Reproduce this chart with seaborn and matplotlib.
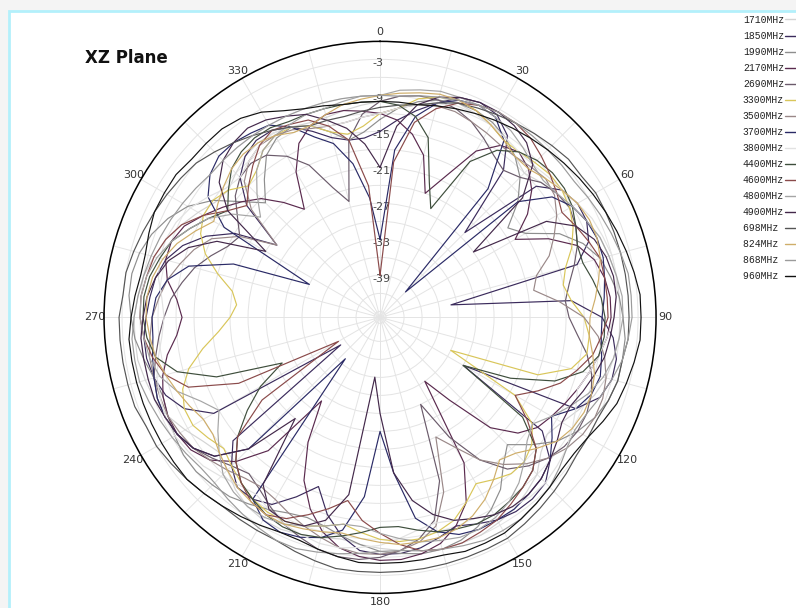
import numpy as np
import pandas as pd
import matplotlib
matplotlib.use("Agg")
import matplotlib.pyplot as plt
from matplotlib.lines import Line2D
from matplotlib.patches import Rectangle
from matplotlib.transforms import ScaledTranslation
import seaborn as sns

# ---------------- data (gain read in dB, every 5 degrees, 0..355; one row = 60 deg) ----------------
angles_deg = list(range(0, 360, 5))

freqs = ["1710MHz", "1850MHz", "1990MHz", "2170MHz", "2690MHz", "3300MHz",
         "3500MHz", "3700MHz", "3800MHz", "4400MHz", "4600MHz", "4800MHz",
         "4900MHz", "698MHz", "824MHz", "868MHz", "960MHz"]

g1710 = [-10, -9, -8.5, -8, -8, -8.5, -9, -10, -11, -12, -11, -10,
         -9, -8, -7, -6.5, -6, -6, -6, -6, -6.5, -7, -8, -9.5,
         -11, -12, -11, -9, -8, -7, -6.5, -6, -6, -6, -6.5, -7,
         -7.5, -8, -8.5, -8, -7.5, -7, -7, -7.5, -8.5, -10, -11, -10,
         -8.5, -7, -6, -5.5, -5, -5, -5, -5.5, -6, -7, -8, -9.5,
         -11, -12.5, -13, -12, -11, -10.5, -10.5, -11, -11.5, -11.5, -11, -10.5]
g1850 = [-15, -13, -11, -9, -7, -6.5, -7, -9, -14, -26, -12, -9,
         -8, -8, -9, -12, -34, -14, -9, -7, -6, -6, -7, -10,
         -30, -13, -9, -7, -6.5, -6.5, -7, -8, -9, -8, -7, -6.5,
         -6.5, -7, -9, -12, -16, -13, -10, -9, -9, -11, -14, -38,
         -14, -10, -8, -7, -6.5, -6.5, -7, -7.5, -8, -9, -11, -14,
         -18, -25, -17, -13, -11, -10, -10, -11, -13, -15, -16, -16]
g1990 = [-13, -11, -9.5, -8.5, -8, -8, -8.5, -9.5, -11, -13, -16, -20,
         -18, -13, -10, -8, -7, -6, -5.5, -5, -5, -5, -5.5, -6.5,
         -8, -10, -13, -16, -14, -11, -9, -7.5, -6.5, -6, -6, -6.5,
         -7, -8, -9, -10, -10.5, -10, -9, -8, -7, -6.5, -6, -6,
         -6.5, -7, -7.5, -7, -6, -5, -4.5, -4, -4, -4.5, -5.5, -7,
         -9, -12, -16, -19, -16, -13, -11.5, -11, -12, -14, -16, -15]
g2170 = [-12, -13, -15, -18, -24, -20, -14, -11, -10, -11, -13, -16,
         -20, -15, -11, -9, -8, -7.5, -7.5, -8, -9, -10, -11, -12,
         -13, -14, -16, -20, -28, -33, -18, -12, -9, -7, -6, -5.5,
         -5.5, -6, -7, -9, -12, -16, -22, -29, -17, -12, -9, -7.5,
         -7, -7, -7.5, -8.5, -10, -12, -13, -12, -10, -9, -9, -10,
         -12, -14, -16, -18, -21, -24, -18, -14, -12, -11, -11, -11.5]
g2690 = [-10, -9, -8.5, -8.5, -9, -10, -11.5, -13, -14, -13, -11, -10,
         -9.5, -10, -11, -12.5, -14, -15, -14.5, -13, -11, -9.5, -8.5, -8,
         -8, -8.5, -9.5, -11, -13, -17, -23, -30, -17, -11, -8.5, -7,
         -6, -5.5, -5.5, -6, -7, -8, -9.5, -11, -12, -11, -9.5, -8,
         -7, -6.5, -6.5, -7, -8, -9, -10, -11, -12.5, -14, -16, -18,
         -19, -17, -14.5, -13, -12.5, -13, -15, -18, -23, -26, -16, -12]
g3300 = [-12, -11, -9, -8, -7.5, -8, -9, -10, -10, -9.5, -9, -9,
         -9.5, -10.5, -12, -14, -15, -14, -12, -11, -11, -13, -18, -33,
         -20, -15, -13, -12, -12, -13, -14, -12, -10, -9, -8.5, -8.5,
         -9, -10, -11, -10, -9, -8.5, -8.5, -9, -10, -11, -12, -11,
         -10, -10, -11, -13, -16, -19, -21, -22, -21, -18, -15, -13,
         -12, -12, -13, -15, -14, -12, -11, -11, -12, -14, -15, -14]
g3500 = [-12, -11, -10, -9.5, -9.5, -10, -10.5, -11, -11, -10.5, -10, -10.5,
         -12, -14, -16, -19, -20, -16, -12, -9.5, -8, -7, -6.5, -6.5,
         -7, -8, -9.5, -11.5, -14, -17, -21, -24, -15, -10, -8, -7,
         -6.5, -6.5, -7, -8, -9, -10, -11, -11.5, -11, -10, -9, -8,
         -7.5, -7, -7, -7, -7, -7.5, -8, -9, -10, -11.5, -13, -15,
         -19, -25, -18, -14, -12, -11, -11, -11.5, -12.5, -13, -13, -12.5]
g3700 = [-33, -18, -12, -9, -7.5, -7, -7.5, -10, -18, -40, -16, -11,
         -9, -8, -7.5, -7.5, -8, -8.5, -9, -9, -8.5, -8, -8.5, -10,
         -13, -11, -9, -8, -7.5, -7, -7, -7, -7.5, -9, -12, -20,
         -27, -16, -10, -8, -7, -6.5, -7, -9, -37, -15, -10, -8,
         -7, -6.5, -6.5, -7, -7.5, -8, -8, -8.5, -10, -13, -20, -33,
         -16, -11, -9, -8, -8, -8.5, -9, -11, -14, -16, -20, -26]
g3800 = [-12, -11, -10, -9, -8.5, -8.5, -9, -9.5, -10, -10, -9.5, -9,
         -8, -7, -6.5, -6, -6, -6.5, -7, -8, -9, -10, -11, -10,
         -9, -8, -7.5, -7, -7, -7.5, -8, -9, -10, -10.5, -10, -9,
         -8, -7.5, -7, -7, -7.5, -8, -9, -10, -9.5, -8.5, -7.5, -7,
         -6.5, -6.5, -7, -7.5, -8.5, -9.5, -10, -9.5, -8.5, -8, -8, -8.5,
         -9.5, -11, -12.5, -13, -12, -11, -10.5, -11, -12, -13, -13, -12.5]
g4400 = [-10, -10.5, -12, -15, -22, -26, -16, -12, -10, -9, -8.5, -8.5,
         -9, -10, -11, -11, -10, -9, -8.5, -8.5, -9, -11, -15, -22,
         -30, -17, -12, -10, -9, -8.5, -8, -8, -8.5, -9, -10, -11,
         -11, -10, -9, -8, -7.5, -7.5, -8, -9, -10, -12, -15, -19,
         -23, -28, -17, -11, -8, -7, -6.5, -6.5, -7, -8, -9, -11,
         -13, -15, -13, -11, -10, -9.5, -9.5, -10, -10, -10, -10, -10]
g4600 = [-39, -20, -13, -10, -8, -7, -6.5, -6.5, -7, -8, -9, -10,
         -11, -10, -9, -8, -8, -8, -8, -9, -10, -12, -14, -17,
         -20, -16, -12, -10, -9, -8, -7, -6.5, -6, -6, -6.5, -8,
         -10, -12, -15, -13, -11, -9, -8, -8.5, -10, -12, -15, -22,
         -38, -20, -12, -9, -7.5, -6.5, -6, -6, -6.5, -7, -8, -9.5,
         -12, -15, -17, -15, -13, -11, -10, -10.5, -11, -13, -16, -24]
g4800 = [-9, -8, -7.5, -7, -7, -7, -7.5, -8, -9, -10, -10.5, -10,
         -9, -8, -7, -6.5, -6, -5.5, -5.5, -6, -6.5, -7.5, -9, -11,
         -13, -15, -14, -12, -10, -8.5, -7.5, -7, -7, -7.5, -8, -9,
         -10, -11, -11, -10, -9, -8, -7.5, -7.5, -8, -9, -11, -13,
         -15, -13, -10, -8, -7, -6.5, -6, -6, -6.5, -7.5, -9, -11,
         -13, -16, -20, -17, -14, -12, -11, -10.5, -10, -10, -9.5, -9]
g4900 = [-21, -14, -10, -8, -7, -6.5, -6.5, -7, -8, -10, -15, -27,
         -14, -10, -8, -7, -6.5, -6.5, -7, -7.5, -8, -9, -10, -11,
         -11, -10, -9, -8, -7.5, -7.5, -8, -9, -10, -12, -15, -20,
         -30, -36, -16, -11, -9, -8.5, -9, -12, -24, -15, -10, -8,
         -7, -6.5, -6, -6, -6, -6, -6.5, -7, -8, -9.5, -12, -16,
         -24, -15, -11, -9, -8, -7.5, -8, -9, -10, -12, -14, -17]
g698 = [-11, -10.5, -10, -9, -8, -7.5, -7, -6.5, -6, -5.5, -5, -5,
        -4.5, -4.5, -4.5, -4.5, -4.5, -4.5, -4.5, -4.5, -5, -5, -5.5, -6,
        -6, -6, -5.5, -5, -4.5, -4, -3.5, -3.5, -3.5, -3.5, -3.5, -3.5,
        -3.5, -3.5, -3.5, -4, -4.5, -5, -5, -5, -5, -4.5, -4, -3.5,
        -3, -3, -2.5, -2.5, -2.5, -2.5, -2.5, -3, -3, -3.5, -4, -4.5,
        -5, -5.5, -6, -7, -8, -9, -10, -11, -12, -12, -12, -11.5]
g824 = [-9, -8.5, -8, -7.5, -7.5, -8, -9, -10, -11, -11, -10, -9,
        -8, -7.5, -7.5, -8, -9, -10, -11, -11, -10, -9, -8.5, -8.5,
        -9, -10, -12, -14, -15, -13, -11, -9.5, -8.5, -8, -8, -8,
        -8.5, -9, -9.5, -9, -8.5, -8, -8, -8.5, -9, -10, -11, -12,
        -12, -11, -10, -9, -8, -7.5, -7, -7, -7.5, -8.5, -10, -12,
        -14, -13, -12, -11, -10.5, -10.5, -11, -12, -12, -11, -10, -9.5]
g868 = [-9, -9, -8.5, -8, -7.5, -7, -6.5, -6.5, -6.5, -6.5, -6.5, -6.5,
        -6, -5.5, -5, -4.5, -4, -4, -4, -4.5, -5, -6, -7, -8,
        -8.5, -8, -7, -6, -5.5, -5, -5, -5, -5.5, -6, -6.5, -7,
        -7, -6.5, -6, -5.5, -5, -5, -5.5, -6, -6.5, -7, -7, -6.5,
        -6, -5.5, -5, -4.5, -4.5, -4.5, -5, -5.5, -6, -6.5, -7, -7.5,
        -8, -8.5, -9, -9, -9, -9, -9, -9, -9, -9, -9, -9]
g960 = [-10, -10, -10, -9.5, -9, -8.5, -8, -7.5, -7, -6.5, -6, -5.5,
        -5, -4.5, -4, -3.5, -3, -2.5, -2.5, -2.5, -3, -3.5, -4, -5,
        -6, -6.5, -6.5, -6, -5.5, -5, -4.5, -4.5, -4.5, -5, -5, -5,
        -5, -5, -5.5, -6, -6.5, -6.5, -6, -5.5, -5, -4.5, -4, -4,
        -4, -4, -4, -4, -4, -4, -4.5, -5, -5.5, -5.5, -5, -4.5,
        -4.5, -4.5, -5, -5, -5, -5.5, -6.5, -8, -9, -9.5, -10, -10]

gains = [g1710, g1850, g1990, g2170, g2690, g3300, g3500, g3700, g3800, g4400,
         g4600, g4800, g4900, g698, g824, g868, g960]

colors = ["#d4d4d4", "#3b2b5c", "#8e8e8e", "#5a2a4e", "#6b5b6b", "#d9c65a",
          "#9a8888", "#2a2a66", "#e2e2e2", "#3e4e3c", "#8a4a4a", "#a5a5a5",
          "#43284a", "#555555", "#cfae6a", "#9b9b9b", "#111111"]

radial_ticks = [-3, -9, -15, -21, -27, -33, -39]
angle_ticks = list(range(0, 360, 30))

R_MIN, R_MAX = -46.0, 0.0

# ---------------- long-form table ----------------
rows = []
for f, g in zip(freqs, gains):
    vals = list(g) + [g[0]]
    angs = angles_deg[:len(g)] + [360]
    for a, v in zip(angs, vals):
        rows.append({"freq": f, "theta": np.deg2rad(a), "gain": v})
df = pd.DataFrame(rows)

sns.set_style("white")
plt.rcParams["font.family"] = ["DejaVu Sans"]

fig = plt.figure(figsize=(7.96, 6.08), dpi=100)
fig.patch.set_facecolor("#f4f4f4")
fig.patches.append(Rectangle((9 / 796, -0.01), 1.0, (608 - 11) / 608 + 0.01,
                             transform=fig.transFigure, facecolor="white",
                             edgecolor="#b3f0fb", linewidth=2, zorder=-5))

ax = fig.add_axes([0.1307, 0.024, 0.6935, 0.908], projection="polar")
ax.set_zorder(1)
ax.set_facecolor("white")
ax.set_theta_zero_location("N")
ax.set_theta_direction(-1)

sns.lineplot(data=df, x="theta", y="gain", hue="freq", hue_order=freqs,
             palette=dict(zip(freqs, colors)), sort=False, estimator=None,
             linewidth=0.85, legend=False, ax=ax)

ax.set_ylim(R_MIN, R_MAX)
ax.set_yticks(list(range(-45, 1, 3)))
ax.set_yticklabels(["" if t not in radial_ticks else str(t) for t in range(-45, 1, 3)],
                   fontsize=8, color="#444444")
ax.set_rlabel_position(0)
ax.set_xticks(np.deg2rad(list(range(0, 360, 15))))
ax.set_xticklabels([str(a) if a % 30 == 0 else "" for a in range(0, 360, 15)],
                   fontsize=8, color="#333333")
ax.tick_params(axis="x", pad=-4)
ax.grid(True, color="#e4e4e4", linewidth=0.7)
ax.spines["polar"].set_color("black")
ax.spines["polar"].set_linewidth(1.1)
ax.set_xlabel("")
ax.set_ylabel("")

# radial labels sit just below their rings, centred on the 0-degree spoke
shift = ScaledTranslation(-8 / 100, -9 / 100, fig.dpi_scale_trans)
for lab in ax.get_yticklabels():
    lab.set_transform(lab.get_transform() + shift)

fig.text(85 / 796, 1 - 58 / 608, "XZ Plane", fontsize=12, fontweight="bold",
         va="center", ha="left", color="#111111")

handles = [Line2D([0], [0], color=c, linewidth=1) for c in colors]
labels = [f.ljust(7) for f in freqs]
leg = fig.legend(handles, labels, loc="upper left", bbox_to_anchor=(739 / 796, 1 - 11 / 608),
                 frameon=False, markerfirst=False, handlelength=1.2, handletextpad=0.1,
                 labelspacing=0.62, borderaxespad=0,
                 prop={"family": "Liberation Mono", "size": 7})
for t in leg.get_texts():
    t.set_color("#222222")

fig.savefig("out.png", dpi=100, facecolor=fig.get_facecolor())
